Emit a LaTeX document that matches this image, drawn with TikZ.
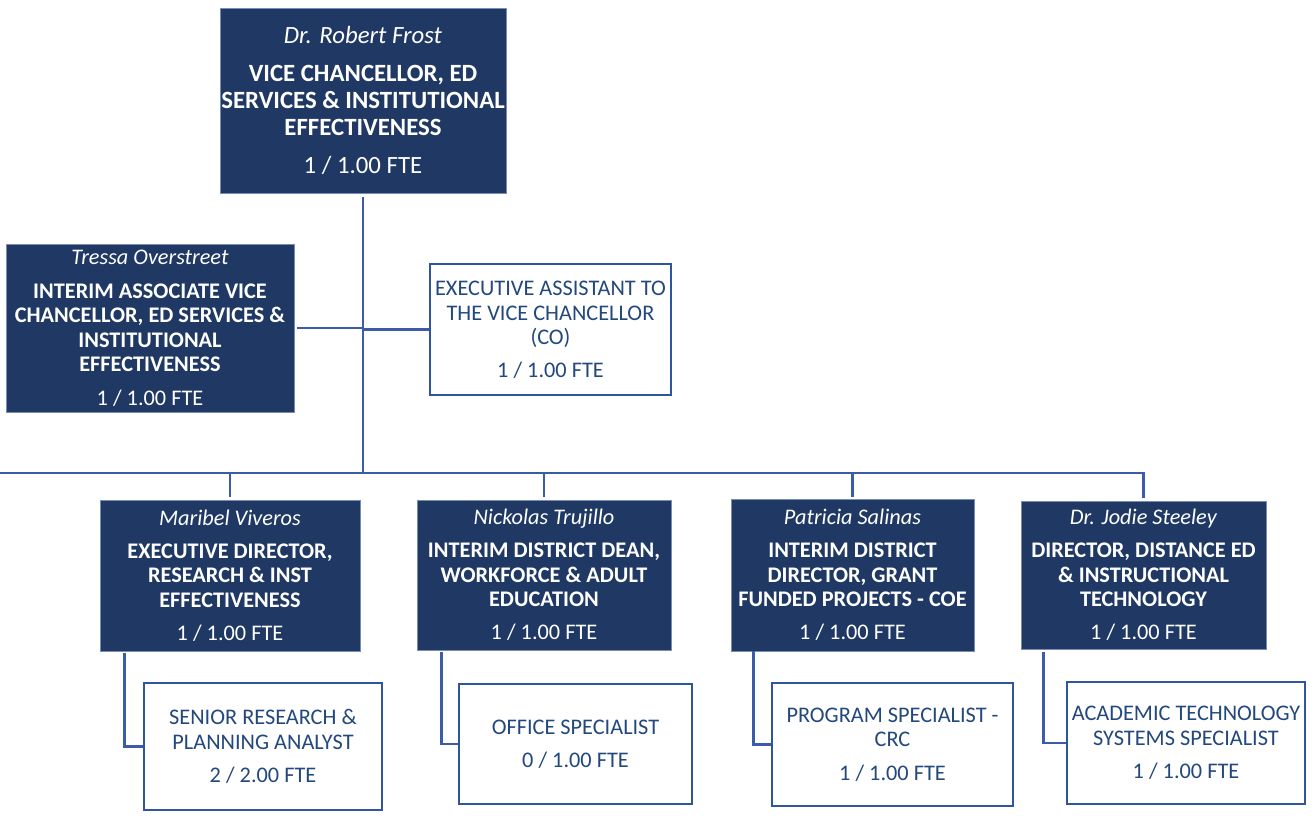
\documentclass[tikz,border=0pt]{standalone}
\usepackage{fontspec}
\setmainfont{Carlito}
\definecolor{navy}{RGB}{31,56,100}
\definecolor{navyedge}{RGB}{120,140,180}
\definecolor{linkblue}{RGB}{60,92,170}
\definecolor{boxblue}{RGB}{47,85,160}
\definecolor{txtblue}{RGB}{35,72,125}
\tikzset{
  darkbox/.style={draw=navyedge, line width=0.8pt, fill=navy, text=white, align=center, inner sep=0pt,
    font=\fontsize{22.3}{24.5}\selectfont},
  whitebox/.style={draw=boxblue, line width=2.6pt, fill=white, text=txtblue, align=center, inner sep=0pt,
    font=\fontsize{22.3}{24.5}\selectfont},
  link/.style={draw=linkblue, line width=2.6pt}
}
\begin{document}
\begin{tikzpicture}[x=1pt,y=-1pt]
\useasboundingbox (0,0) rectangle (1314,817);
% top
\node[darkbox, minimum width=286pt, minimum height=185pt, font=\fontsize{24.8}{27}\selectfont] (vc) at (363,100.5)
 {\textit{Dr. Robert Frost}\\[11pt]\textbf{VICE CHANCELLOR, ED}\\\textbf{SERVICES \& INSTITUTIONAL}\\\textbf{EFFECTIVENESS}\\[11pt]1 / 1.00 FTE};
\node[darkbox, minimum width=288pt, minimum height=168pt] (tressa) at (150,328)
 {\textit{Tressa Overstreet}\\[9pt]\textbf{INTERIM ASSOCIATE VICE}\\\textbf{CHANCELLOR, ED SERVICES \&}\\\textbf{INSTITUTIONAL}\\\textbf{EFFECTIVENESS}\\[9pt]1 / 1.00 FTE};
\node[whitebox, minimum width=241pt, minimum height=131pt] (co) at (550.5,329.5)
 {EXECUTIVE ASSISTANT TO\\THE VICE CHANCELLOR\\(CO)\\[8pt]1 / 1.00 FTE};
% second level
\node[darkbox, minimum width=260pt, minimum height=151pt] (maribel) at (230,575.5)
 {\textit{Maribel Viveros}\\[8.5pt]\textbf{EXECUTIVE DIRECTOR,}\\\textbf{RESEARCH \& INST}\\\textbf{EFFECTIVENESS}\\[8.5pt]1 / 1.00 FTE};
\node[darkbox, minimum width=254pt, minimum height=150pt] (nick) at (544,575)
 {\textit{Nickolas Trujillo}\\[8.5pt]\textbf{INTERIM DISTRICT DEAN,}\\\textbf{WORKFORCE \& ADULT}\\\textbf{EDUCATION}\\[8.5pt]1 / 1.00 FTE};
\node[darkbox, minimum width=243pt, minimum height=152pt] (patricia) at (852.5,575)
 {\textit{Patricia Salinas}\\[8.5pt]\textbf{INTERIM DISTRICT}\\\textbf{DIRECTOR, GRANT}\\\textbf{FUNDED PROJECTS - COE}\\[8.5pt]1 / 1.00 FTE};
\node[darkbox, minimum width=245pt, minimum height=148pt] (jodie) at (1143.5,575)
 {\textit{Dr. Jodie Steeley}\\[8.5pt]\textbf{DIRECTOR, DISTANCE ED}\\\textbf{\& INSTRUCTIONAL}\\\textbf{TECHNOLOGY}\\[8.5pt]1 / 1.00 FTE};
% third level
\node[whitebox, minimum width=238pt, minimum height=127pt] (senior) at (263,746.5)
 {SENIOR RESEARCH \&\\PLANNING ANALYST\\[9pt]2 / 2.00 FTE};
\node[whitebox, minimum width=233pt, minimum height=120pt] (office) at (575.5,744)
 {OFFICE SPECIALIST\\[9pt]0 / 1.00 FTE};
\node[whitebox, minimum width=241pt, minimum height=123pt] (program) at (892.5,744.5)
 {PROGRAM SPECIALIST -\\CRC\\[9pt]1 / 1.00 FTE};
\node[whitebox, minimum width=238pt, minimum height=122pt] (academic) at (1186,743)
 {ACADEMIC TECHNOLOGY\\SYSTEMS SPECIALIST\\[9pt]1 / 1.00 FTE};
% connectors
\coordinate (busL) at (0,473);
\coordinate (trunkEnd) at (363,473);
\draw[link] ([yshift=-4pt]vc.south) -- (trunkEnd);
\draw[link] ([xshift=3pt]tressa.east) -- (tressa.east -| trunkEnd);
\draw[link] (co.west) -- (co.west -| trunkEnd);
\draw[link] (busL) -- (jodie.north |- busL) -- ([yshift=3pt]jodie.north);
\draw[link] (maribel.north |- busL) -- ([yshift=3pt]maribel.north);
\draw[link] (nick.north |- busL) -- ([yshift=3pt]nick.north);
\draw[link] (patricia.north |- busL) -- ([yshift=2pt]patricia.north);
\draw[link] ([xshift=25pt,yshift=-2pt]maribel.south west) |- (senior.west);
\draw[link] ([xshift=25pt,yshift=-2pt]nick.south west) |- (office.west);
\draw[link] ([xshift=23pt]patricia.south west) |- (program.west);
\draw[link] ([xshift=23pt,yshift=-3pt]jodie.south west) |- (academic.west);
\end{tikzpicture}
\end{document}
